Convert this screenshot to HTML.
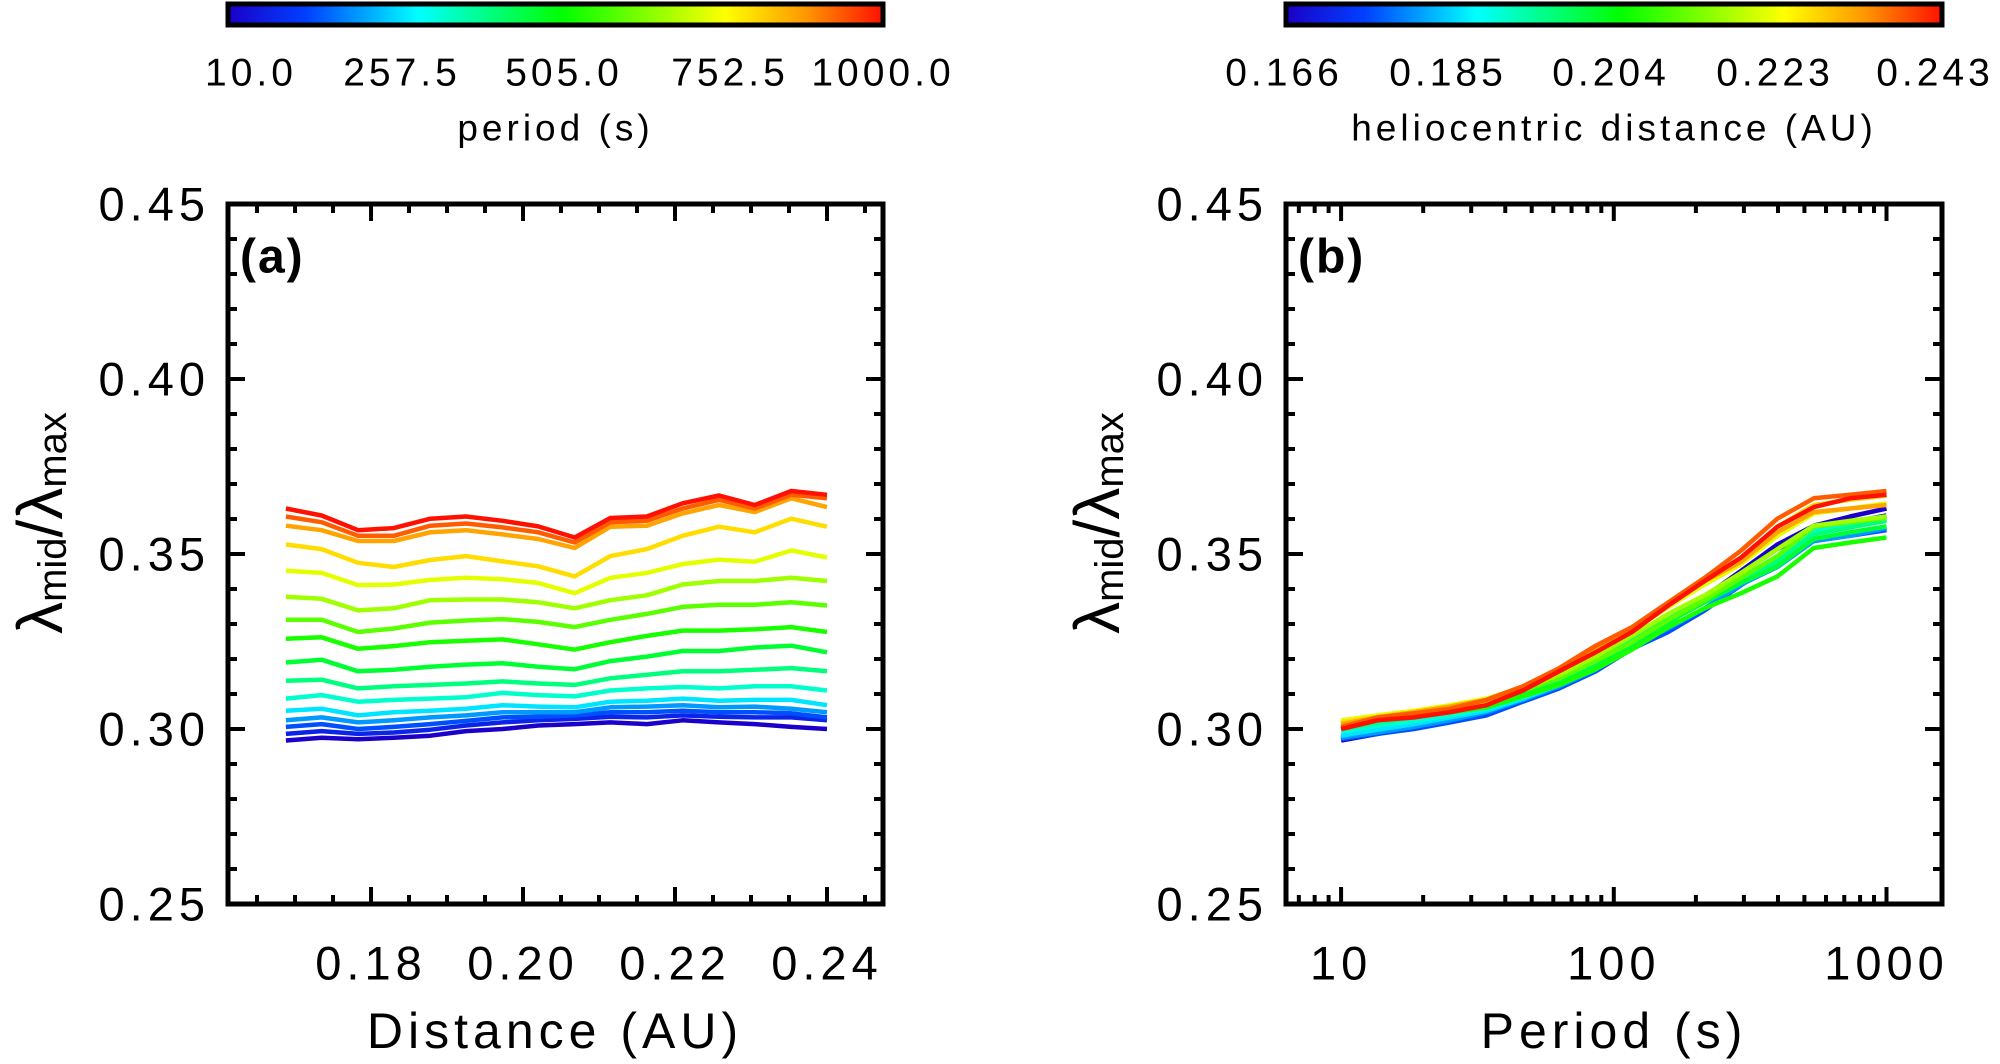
<!DOCTYPE html>
<html><head><meta charset="utf-8"><style>
html,body{margin:0;padding:0;background:#fff;}
svg{display:block;font-family:"Liberation Sans",sans-serif;}
</style></head><body>
<svg id="fig" width="2000" height="1064" viewBox="0 0 2000 1064" xmlns="http://www.w3.org/2000/svg">
<defs>
<linearGradient id="rb" x1="0" x2="1" y1="0" y2="0">
<stop offset="0" stop-color="#1a00c8"/><stop offset="0.12" stop-color="#0040ff"/><stop offset="0.29" stop-color="#00ffff"/><stop offset="0.51" stop-color="#00ff00"/><stop offset="0.76" stop-color="#ffff00"/><stop offset="0.88" stop-color="#ff9900"/><stop offset="1" stop-color="#ff1000"/>
</linearGradient>
</defs>
</svg>
<script>
const periods = [10,13.6,18.5,25.1,34.1,46.4,63.1,85.8,116.6,158.5,215.4,292.9,398.1,541.2,735.6,1000];
const distances = [0.1688,0.1735,0.1783,0.1830,0.1878,0.1925,0.1973,0.2020,0.2068,0.2115,0.2163,0.2210,0.2258,0.2305,0.2353,0.2400];
const ratio = [
[0.2967,0.2975,0.2971,0.2975,0.2981,0.2994,0.3000,0.3010,0.3014,0.3019,0.3014,0.3025,0.3019,0.3014,0.3006,0.3000],
[0.2986,0.2994,0.2986,0.2990,0.2998,0.3010,0.3019,0.3025,0.3029,0.3035,0.3033,0.3039,0.3035,0.3033,0.3033,0.3025],
[0.3006,0.3014,0.3000,0.3006,0.3014,0.3023,0.3033,0.3035,0.3039,0.3048,0.3048,0.3052,0.3048,0.3048,0.3045,0.3033],
[0.3025,0.3033,0.3019,0.3025,0.3033,0.3039,0.3048,0.3048,0.3048,0.3062,0.3064,0.3068,0.3062,0.3064,0.3058,0.3048],
[0.3052,0.3058,0.3039,0.3048,0.3052,0.3058,0.3068,0.3064,0.3062,0.3078,0.3081,0.3087,0.3081,0.3083,0.3083,0.3068],
[0.3087,0.3097,0.3078,0.3083,0.3087,0.3091,0.3103,0.3097,0.3093,0.3110,0.3116,0.3120,0.3116,0.3122,0.3122,0.3110],
[0.3138,0.3141,0.3116,0.3122,0.3126,0.3130,0.3136,0.3130,0.3126,0.3145,0.3155,0.3165,0.3165,0.3169,0.3174,0.3165],
[0.3190,0.3198,0.3165,0.3169,0.3178,0.3184,0.3188,0.3178,0.3171,0.3194,0.3207,0.3223,0.3223,0.3233,0.3238,0.3219],
[0.3258,0.3262,0.3229,0.3237,0.3248,0.3252,0.3256,0.3242,0.3227,0.3248,0.3266,0.3281,0.3281,0.3285,0.3291,0.3277],
[0.3312,0.3312,0.3277,0.3287,0.3304,0.3310,0.3314,0.3306,0.3291,0.3312,0.3329,0.3349,0.3355,0.3355,0.3362,0.3353],
[0.3378,0.3372,0.3339,0.3345,0.3368,0.3370,0.3370,0.3362,0.3345,0.3368,0.3382,0.3413,0.3423,0.3423,0.3432,0.3423],
[0.3452,0.3446,0.3411,0.3413,0.3426,0.3432,0.3428,0.3417,0.3388,0.3432,0.3446,0.3471,0.3484,0.3478,0.3510,0.3490],
[0.3527,0.3514,0.3475,0.3463,0.3483,0.3494,0.3479,0.3465,0.3436,0.3494,0.3514,0.3552,0.3578,0.3562,0.3601,0.3578],
[0.3581,0.3568,0.3537,0.3537,0.3562,0.3568,0.3556,0.3543,0.3517,0.3578,0.3581,0.3616,0.3640,0.3620,0.3659,0.3634],
[0.3607,0.3591,0.3552,0.3552,0.3581,0.3587,0.3576,0.3562,0.3533,0.3591,0.3595,0.3630,0.3655,0.3630,0.3669,0.3659],
[0.3630,0.3610,0.3568,0.3574,0.3601,0.3607,0.3595,0.3579,0.3547,0.3603,0.3607,0.3645,0.3667,0.3640,0.3680,0.3669]
];
const yTicks = ["0.25","0.30","0.35","0.40","0.45"];
const xTicksA = ["0.18","0.20","0.22","0.24"];
const xTicksB = ["10","100","1000"];
const cbLabelsA = ["10.0","257.5","505.0","752.5","1000.0"];
const cbLabelsB = ["0.166","0.185","0.204","0.223","0.243"];

const NS="http://www.w3.org/2000/svg";
const svg=document.getElementById('fig');
function mk(tag,attrs,parent){const e=document.createElementNS(NS,tag);for(const k in attrs)e.setAttribute(k,attrs[k]);(parent||svg).appendChild(e);return e;}
function txt(s,x,y,size,anchor,parent,weight,ls){const t=mk('text',{x:x,y:y,'font-size':size,'text-anchor':anchor||'middle','dominant-baseline':'central','letter-spacing':(ls===undefined?4:ls),'font-weight':weight||'normal'},parent);t.textContent=s;return t;}

const stops=[[0,[26,0,200]],[0.12,[0,64,255]],[0.29,[0,255,255]],[0.51,[0,255,0]],[0.76,[255,255,0]],[0.88,[255,153,0]],[1,[255,16,0]]];
function cmap(t){for(let i=1;i<stops.length;i++){if(t<=stops[i][0]){const a=stops[i-1],b=stops[i];const f=(t-a[0])/(b[0]-a[0]);const c=a[1].map((v,j)=>Math.round(v+(b[1][j]-v)*f));return 'rgb('+c.join(',')+')';}}return 'rgb(255,16,0)';}

const TOP=204,BOT=904;
const yS=v=>BOT-(v-0.25)/0.20*(BOT-TOP);

function colorbar(x0,x1,labels,title,pos,name){
  const g=mk('g',{});
  
  
  mk('rect',{x:x0,y:4,width:x1-x0,height:21,fill:'url(#rb)',stroke:'#000','stroke-width':5},g);
  labels.forEach((l,i)=>{const t=txt(l,pos[i],73,39,'middle',g,'normal',4);});
  const tt=txt(title,(x0+x1)/2,128,37,'middle',g,'normal',4);
  
  
}
colorbar(228,883,cbLabelsA,'period (s)',[251,402,564,730,883],'period-colorbar');
colorbar(1286,1942,cbLabelsB,'heliocentric distance (AU)',[1284,1448,1611,1775,1935],'distance-colorbar');

function frame(name){
  const g=mk('g',{});
  
  
  return g;
}
function yAxis(g,L,R){
  for(let k=0;k<=20;k++){const v=0.25+k*0.01;const y=yS(v);const maj=(k%5===0);const len=maj?17:9;
    mk('line',{x1:L,x2:L+len,y1:y,y2:y,stroke:'#000','stroke-width':4},g);
    mk('line',{x1:R,x2:R-len,y1:y,y2:y,stroke:'#000','stroke-width':4},g);}
  yTicks.forEach((s,i)=>{const t=txt(s,L-18,yS(parseFloat(s)),47,'end',g,'normal',5);});
}
function ylabel(x,name){
  const g=mk('g',{transform:'translate('+x+',523) rotate(-90)'});
  
  
  const t=mk('text',{x:0,y:0,'font-size':64,'text-anchor':'middle','dominant-baseline':'central'},g);
  t.innerHTML='λ<tspan font-size="40" dy="13">mid</tspan><tspan dy="-13">/λ</tspan><tspan font-size="40" dy="13">max</tspan>';
}

// Panel A
const AL=228,AR=883;
const xA=d=>AL+(d-0.16118)/(0.24737-0.16118)*(AR-AL);
const gA=frame('panel-a');
ratio.forEach((row,i)=>{
  const p=mk('polyline',{points:row.map((v,j)=>xA(distances[j]).toFixed(1)+','+yS(v).toFixed(1)).join(' '),fill:'none',stroke:cmap(i/15),'stroke-width':4.5,'stroke-linejoin':'round'},gA);
  
  
});
yAxis(gA,AL,AR);
for(let k=0;k<=17;k++){const d=0.165+k*0.005;if(d>0.2474)break;const x=xA(d);const maj=(Math.round(d*1000)%20===0);const len=maj?17:9;
  mk('line',{x1:x,x2:x,y1:BOT,y2:BOT-len,stroke:'#000','stroke-width':4},gA);
  mk('line',{x1:x,x2:x,y1:TOP,y2:TOP+len,stroke:'#000','stroke-width':4},gA);}
xTicksA.forEach(s=>{const t=txt(s,xA(parseFloat(s)),963,47,'middle',gA,'normal',5);});
mk('rect',{x:AL,y:TOP,width:AR-AL,height:BOT-TOP,fill:'none',stroke:'#000','stroke-width':5},gA);
const la=txt('(a)',240,257,48,'start',gA,'bold',2);
const xtA=txt('Distance (AU)',555,1031,50,'middle',gA,'normal',5);
ylabel(40,'y-axis-title-a');

// Panel B
const BL=1286,BR=1942;
const xB=p=>BL+(Math.log10(p)-0.798)/(3.2035-0.798)*(BR-BL);
const gB=frame('panel-b');
for(let j=0;j<distances.length;j++){
  const p=mk('polyline',{points:periods.map((pp,i)=>xB(pp).toFixed(1)+','+yS(ratio[i][j]).toFixed(1)).join(' '),fill:'none',stroke:cmap(j/15),'stroke-width':4.5,'stroke-linejoin':'round'},gB);
  
  
}
yAxis(gB,BL,BR);
for(let dec=0;dec<=3;dec++){for(let m=1;m<=9;m++){const v=m*Math.pow(10,dec);const x=xB(v);if(x<BL+2||x>BR-2)continue;const len=m===1?17:9;
  mk('line',{x1:x,x2:x,y1:BOT,y2:BOT-len,stroke:'#000','stroke-width':4},gB);
  mk('line',{x1:x,x2:x,y1:TOP,y2:TOP+len,stroke:'#000','stroke-width':4},gB);}}
xTicksB.forEach(s=>{const t=txt(s,xB(parseFloat(s)),963,47,'middle',gB,'normal',5);});
mk('rect',{x:BL,y:TOP,width:BR-BL,height:BOT-TOP,fill:'none',stroke:'#000','stroke-width':5},gB);
const lb=txt('(b)',1298,257,48,'start',gB,'bold',2);
const xtB=txt('Period (s)',1614,1031,50,'middle',gB,'normal',5);
ylabel(1097,'y-axis-title-b');
</script>
</body></html>
